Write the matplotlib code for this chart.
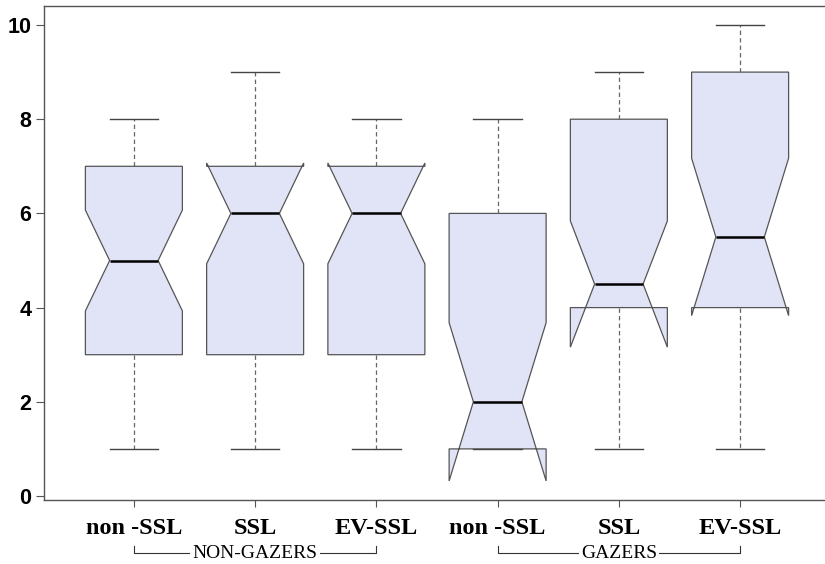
import matplotlib
matplotlib.use("Agg")
import matplotlib.pyplot as plt
from matplotlib.lines import Line2D

# Category labels and groups
categories = ["non -SSL", "SSL", "EV-SSL", "non -SSL", "SSL", "EV-SSL"]
groups = ["NON-GAZERS", "GAZERS"]

# Box statistics per category
medians = [5, 6, 6, 2, 4.5, 5.5]
q1 = [3, 3, 3, 1, 4, 4]
q3 = [7, 7, 7, 6, 8, 9]
whisk_lo = [1, 1, 1, 1, 1, 1]
whisk_hi = [8, 9, 8, 8, 9, 10]
notch_lo = [3.93, 4.93, 4.93, 0.32, 3.16, 3.83]
notch_hi = [6.07, 7.07, 7.07, 3.68, 5.84, 7.17]

yticks = [0, 2, 4, 6, 8, 10]

W, H = 825, 564
fig = plt.figure(figsize=(W / 100, H / 100), dpi=100)
ax = fig.add_axes([44 / W, (H - 500) / H, (824 - 44) / W, (500 - 6) / H])

stats = []
for i in range(len(categories)):
    stats.append(dict(med=medians[i], q1=q1[i], q3=q3[i],
                      whislo=whisk_lo[i], whishi=whisk_hi[i],
                      cilo=notch_lo[i], cihi=notch_hi[i], fliers=[]))

positions = list(range(1, len(categories) + 1))
edge = "#555555"
ax.bxp(stats, positions=positions, widths=0.8, capwidths=0.4,
       shownotches=True, patch_artist=True, showfliers=False,
       boxprops=dict(facecolor="#e1e3f6", edgecolor=edge, linewidth=0.9),
       medianprops=dict(color="black", linewidth=1.8),
       whiskerprops=dict(color="#666666", linewidth=0.9, linestyle=(0, (3.5, 2.5))),
       capprops=dict(color="#444444", linewidth=1.0))

ax.set_xlim(1 - 90 / 121.4, 6 + 84 / 121.4)
ax.set_ylim(-4 / 47.1, 10 + 19 / 47.1)

ax.set_yticks(yticks)
ax.set_yticklabels([str(v) for v in yticks], fontfamily="Liberation Sans",
                   fontweight="bold", fontsize=15.5)
ax.set_xticks(positions)
ax.set_xticklabels(categories, fontfamily="Liberation Serif",
                   fontweight="bold", fontsize=17.5)
ax.tick_params(axis="y", length=6, width=0.8, color=edge, pad=3)
ax.tick_params(axis="x", length=5, width=0.8, color=edge, pad=8)

for s in ["left", "bottom", "top"]:
    ax.spines[s].set_color(edge)
    ax.spines[s].set_linewidth(1.0)
ax.spines["right"].set_visible(False)

# Group brackets below the category labels
ax_h = 494.0
y_line = -53 / ax_h
y_tick = -46 / ax_h
tr = ax.get_xaxis_transform()
for gi, name in enumerate(groups):
    x0 = positions[gi * 3]
    x1 = positions[gi * 3 + 2]
    ax.add_line(Line2D([x0, x0, x1, x1], [y_tick, y_line, y_line, y_tick],
                       transform=tr, color="#333333", linewidth=0.8,
                       clip_on=False))
    ax.text((x0 + x1) / 2, y_line, name, transform=tr, ha="center",
            va="center", fontfamily="Liberation Serif", fontsize=14,
            bbox=dict(facecolor="white", edgecolor="none", pad=1.5),
            clip_on=False)

fig.savefig("out.png", dpi=100)
